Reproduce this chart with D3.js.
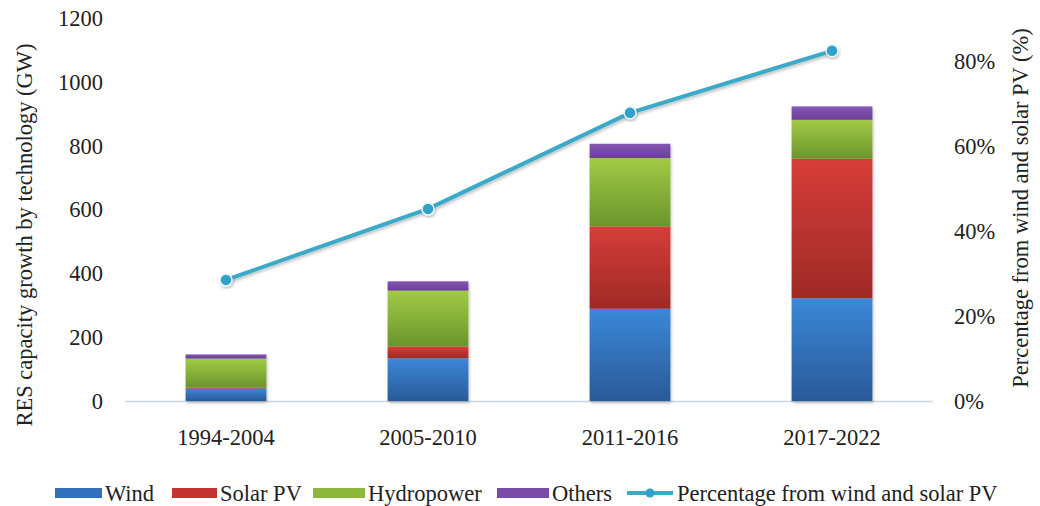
<!DOCTYPE html>
<html><head><meta charset="utf-8">
<script src="https://cdn.jsdelivr.net/npm/d3@7"></script>
<style>body{margin:0;background:#fff}svg{display:block}text{font-family:"Liberation Serif","Times New Roman",serif;fill:#222}</style>
</head><body>
<svg id="c" width="1040" height="506"></svg>
<script>
const categories = ["1994-2004","2005-2010","2011-2016","2017-2022"];
const wind = [39, 134, 289, 322];
const solar = [3, 37, 258, 437];
const hydro = [91, 175, 214, 122];
const others = [13, 29, 45, 42];
const percentage = [0.285, 0.452, 0.678, 0.824];
const leftTicks = [0,200,400,600,800,1000,1200];
const rightTicks = [0,0.2,0.4,0.6,0.8];
const seriesNames = ["Wind","Solar PV","Hydropower","Others"];

const FS = "22.5px";
const svg = d3.select("#c");
const x = d3.scaleBand().domain(categories).range([125,933]).paddingInner(0.6).paddingOuter(0.3);
const y = d3.scaleLinear().domain([0,1200]).range([401,18]);
const y2 = d3.scaleLinear().domain([0,0.9]).range([401,18.5]);

const colors = [
  {top:"#3b87d8", bot:"#2a5a98", flat:"#3270be"},
  {top:"#d63d38", bot:"#9e2a27", flat:"#c33532"},
  {top:"#a2ca45", bot:"#6b952c", flat:"#8cb83c"},
  {top:"#8556b5", bot:"#6a3f97", flat:"#7a4ca8"}
];
const defs = svg.append("defs");
colors.forEach((c,i)=>{
  const g = defs.append("linearGradient").attr("id","g"+i).attr("x1",0).attr("y1",0).attr("x2",0).attr("y2",1);
  g.append("stop").attr("offset","0%").attr("stop-color",c.top);
  g.append("stop").attr("offset","100%").attr("stop-color",c.bot);
});
const sh = defs.append("filter").attr("id","sh").attr("x","-10%").attr("y","-10%").attr("width","130%").attr("height","130%");
sh.append("feDropShadow").attr("dx",1).attr("dy",2).attr("stdDeviation",1.5).attr("flood-color","#000").attr("flood-opacity",0.25);

const rows = categories.map((c,i)=>({cat:c, Wind:wind[i], "Solar PV":solar[i], Hydropower:hydro[i], Others:others[i]}));
const stacked = d3.stack().keys(seriesNames)(rows);

// baseline
svg.append("line").attr("x1",125).attr("x2",933).attr("y1",y(0)+0.5).attr("y2",y(0)+0.5).attr("stroke","#c9d6e3").attr("stroke-width",1.5);

// bars
const barG = svg.append("g").attr("filter","url(#sh)");
stacked.forEach((s,i)=>{
  barG.selectAll(null).data(s).join("rect")
    .attr("x",d=>x(d.data.cat)).attr("width",x.bandwidth())
    .attr("y",d=>y(d[1])).attr("height",d=>Math.max(0,y(d[0])-y(d[1])))
    .attr("fill","url(#g"+i+")");
});

// left axis labels
svg.append("g").selectAll("text").data(leftTicks).join("text")
  .attr("x",103).attr("y",d=>y(d)).attr("dy","0.35em").attr("text-anchor","end")
  .style("font-size",FS).text(d=>d);
// right axis labels
svg.append("g").selectAll("text").data(rightTicks).join("text")
  .attr("x",954).attr("y",d=>y2(d)).attr("dy","0.35em").attr("text-anchor","start")
  .style("font-size",FS).text(d=>d3.format(".0%")(d));
// x labels
svg.append("g").selectAll("text").data(categories).join("text")
  .attr("x",d=>x(d)+x.bandwidth()/2).attr("y",437).attr("dy","0.35em").attr("text-anchor","middle")
  .style("font-size",FS).text(d=>d);

// axis titles
svg.append("text").attr("transform","translate(32,235) rotate(-90)").attr("text-anchor","middle")
  .style("font-size",FS).text("RES capacity growth by technology (GW)");
svg.append("text").attr("transform","translate(1028,208) rotate(-90)").attr("text-anchor","middle")
  .style("font-size",FS).text("Percentage from wind and solar PV (%)");

// line
const line = d3.line().x((d,i)=>x(categories[i])+x.bandwidth()/2).y(d=>y2(d));
svg.append("path").datum(percentage).attr("d",line).attr("fill","none")
  .attr("stroke","#3aaac9").attr("stroke-width",4).attr("filter","url(#sh)");
svg.append("g").selectAll("circle").data(percentage).join("circle")
  .attr("cx",(d,i)=>x(categories[i])+x.bandwidth()/2).attr("cy",d=>y2(d)).attr("r",6)
  .attr("fill","#2ea2c9").attr("stroke","#e8f4f8").attr("stroke-width",1.5).attr("filter","url(#sh)");

// legend
const lg = svg.append("g");
const legItems = [
  {name:"Wind", sx:55, tx:105},
  {name:"Solar PV", sx:172, tx:220},
  {name:"Hydropower", sx:313, tx:368},
  {name:"Others", sx:497, tx:552}
];
legItems.forEach((it,i)=>{
  lg.append("rect").attr("x",it.sx).attr("y",488).attr("width",it.tx-it.sx-3).attr("height",10).attr("fill",colors[i].flat);
  lg.append("text").attr("x",it.tx).attr("y",493).attr("dy","0.35em").style("font-size",FS).text(it.name);
});
lg.append("line").attr("x1",627).attr("x2",673).attr("y1",493).attr("y2",493).attr("stroke","#3aaac9").attr("stroke-width",4);
lg.append("circle").attr("cx",650).attr("cy",493).attr("r",4.5).attr("fill","#2ea2c9");
lg.append("text").attr("x",677).attr("y",493).attr("dy","0.35em").style("font-size",FS).text("Percentage from wind and solar PV");
</script>
</body></html>
